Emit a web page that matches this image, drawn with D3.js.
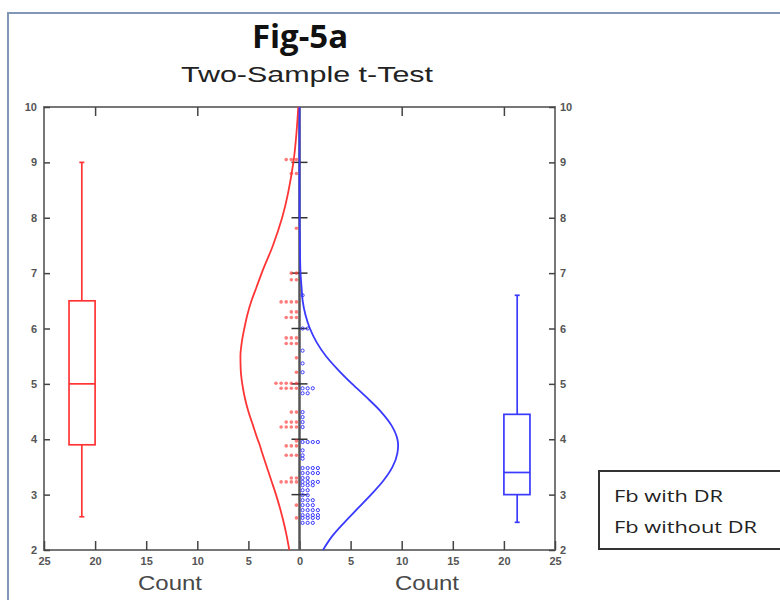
<!DOCTYPE html>
<html>
<head>
<meta charset="utf-8">
<script src="https://cdn.jsdelivr.net/npm/d3@7/dist/d3.min.js"></script>
<style>
  body { margin: 0; background: #fff; }
  svg text { font-family: "Liberation Sans", Arial, sans-serif; }
</style>
</head>
<body>
<div id="canvas"></div>
<script>
// fitted curves (value on y, count on x)
var curveVals = [2, 2.25, 2.5, 2.75, 3, 3.25, 3.5, 3.75, 3.9, 4, 4.25, 4.5, 4.75, 5, 5.25, 5.5, 5.75, 6, 6.25, 6.5, 6.75, 7, 7.5, 8, 9, 10];
var redCurve = [1.0, 1.25, 1.55, 1.9, 2.3, 2.75, 3.2, 3.65, 3.9, 4.1, 4.55, 5.0, 5.35, 5.6, 5.75, 5.78, 5.65, 5.4, 5.1, 4.7, 4.2, 3.7, 2.6, 1.7, 0.6, 0.12];
var blueCurve = [2.3, 3.2, 4.4, 5.7, 7.0, 8.2, 9.1, 9.58, 9.65, 9.58, 9.0, 7.96, 6.6, 5.15, 3.8, 2.6, 1.68, 1.02, 0.58, 0.31, 0.2, 0.1, 0.04, 0.01, 0, 0];

// box plots: [whisker low, q1, median, q3, whisker high]
var redBox = [2.6, 3.9, 5.0, 6.5, 9.0];
var blueBox = [2.5, 3.0, 3.4, 4.45, 6.6];

// dot rows (value, number of dots)
var redRowVals = [9.05, 8.8, 7.81, 7.0, 6.88, 6.48, 6.3, 6.2, 5.83, 5.73, 5.47, 5.21, 5.01, 4.92, 4.49, 4.31, 4.22, 3.97, 3.88, 3.71, 3.3, 3.23, 2.81, 2.58];
var redRowN = [3, 2, 1, 2, 2, 4, 2, 3, 3, 3, 1, 1, 5, 4, 2, 3, 4, 1, 3, 3, 2, 4, 1, 1];
var blueRowVals = [6.6, 6.0, 5.6, 5.37, 5.21, 4.92, 4.83, 4.49, 4.4, 4.31, 4.22, 3.95, 3.8, 3.71, 3.65, 3.48, 3.39, 3.3, 3.23, 3.17, 3.08, 2.99, 2.9, 2.81, 2.72, 2.63, 2.58, 2.49];
var blueRowN = [1, 2, 1, 1, 1, 3, 2, 1, 1, 1, 1, 4, 1, 1, 1, 4, 4, 2, 4, 3, 2, 2, 3, 3, 4, 4, 4, 3];

var xTicks = [-25, -20, -15, -10, -5, 0, 5, 10, 15, 20, 25];
var topTicks = [-20, -10, 10, 20];
var yTicks = [2, 3, 4, 5, 6, 7, 8, 9, 10];
var legendLabels = ["Fb with DR", "Fb without  DR"];

var RED = "#ff3535", BLUE = "#3a3aff";

var svg = d3.select("#canvas").append("svg")
  .attr("width", 780)
  .attr("height", 600);

// outer frame
svg.append("rect")
  .attr("x", 8).attr("y", 13).attr("width", 800).attr("height", 620)
  .attr("fill", "none").attr("stroke", "#8296b6").attr("stroke-width", 2);

var pLeft = 44, pRight = 555, pTop = 107, pBottom = 550;

var x = d3.scaleLinear().domain([-25, 25]).range([pLeft, pRight]);
var y = d3.scaleLinear().domain([2, 10]).range([pBottom, pTop]);

// titles
svg.append("text")
  .attr("x", 300).attr("y", 48)
  .attr("text-anchor", "middle")
  .style("font-family", "'Open Sans', sans-serif")
  .style("font-weight", "bold").style("font-size", "33px")
  .attr("fill", "#111")
  .text("Fig-5a");

svg.append("text")
  .attr("x", 181).attr("y", 82)
  .attr("textLength", 252).attr("lengthAdjust", "spacingAndGlyphs")
  .style("font-size", "22px").attr("fill", "#222")
  .text("Two-Sample t-Test");

// plot frame
svg.append("rect")
  .attr("x", pLeft).attr("y", pTop)
  .attr("width", pRight - pLeft).attr("height", pBottom - pTop)
  .attr("fill", "none").attr("stroke", "#777").attr("stroke-width", 2);

// axes
var gx = svg.append("g")
  .attr("transform", "translate(0," + pBottom + ")")
  .call(d3.axisBottom(x).tickValues(xTicks).tickSize(-9).tickSizeOuter(0).tickPadding(7)
    .tickFormat(function(d) { return Math.abs(d); }));

var gTop = svg.append("g")
  .attr("transform", "translate(0," + pTop + ")")
  .call(d3.axisTop(x).tickValues(topTicks).tickSize(-9).tickSizeOuter(0).tickFormat(""));

var gl = svg.append("g")
  .attr("transform", "translate(" + pLeft + ",0)")
  .call(d3.axisLeft(y).tickValues(yTicks).tickSize(-6).tickSizeOuter(0).tickPadding(7));

var gr = svg.append("g")
  .attr("transform", "translate(" + pRight + ",0)")
  .call(d3.axisRight(y).tickValues(yTicks).tickSize(-6).tickSizeOuter(0).tickPadding(5));

[gx, gTop, gl, gr].forEach(function(g) {
  g.select(".domain").remove();
  g.selectAll(".tick line").attr("stroke", "#444").attr("stroke-width", 1.5);
  g.selectAll(".tick text")
    .attr("fill", "#555")
    .style("font-size", "11px").style("font-weight", "bold")
    .style("font-family", "'Liberation Sans', Arial, sans-serif");
});

// center axis
svg.append("line")
  .attr("x1", x(0)).attr("x2", x(0))
  .attr("y1", y(2)).attr("y2", y(10))
  .attr("stroke", "#555").attr("stroke-width", 2.5);

svg.selectAll(".ctick")
  .data(yTicks.slice(1, -1))
  .enter().append("line")
  .attr("class", "ctick")
  .attr("x1", x(0) - 8).attr("x2", x(0) + 8)
  .attr("y1", function(d) { return y(d); })
  .attr("y2", function(d) { return y(d); })
  .attr("stroke", "#333").attr("stroke-width", 1.5);

// dots
function dotRows(vals, ns, side) {
  var out = [];
  vals.forEach(function(v, i) {
    for (var k = 0; k < ns[i]; k++) out.push({ v: v, c: side * (0.3 + 0.5 * k) });
  });
  return out;
}

svg.selectAll(".rdot")
  .data(dotRows(redRowVals, redRowN, -1))
  .enter().append("circle")
  .attr("class", "rdot")
  .attr("cx", function(d) { return x(d.c); })
  .attr("cy", function(d) { return y(d.v); })
  .attr("r", 1.8)
  .attr("fill", RED).attr("fill-opacity", 0.65);

svg.selectAll(".bdot")
  .data(dotRows(blueRowVals, blueRowN, 1))
  .enter().append("circle")
  .attr("class", "bdot")
  .attr("cx", function(d) { return x(d.c); })
  .attr("cy", function(d) { return y(d.v); })
  .attr("r", 1.6)
  .attr("fill", "none").attr("stroke", BLUE).attr("stroke-width", 1);

// fitted curves
var redLine = d3.line()
  .x(function(d, i) { return x(-redCurve[i]); })
  .y(function(d) { return y(d); })
  .curve(d3.curveMonotoneY);

var blueLine = d3.line()
  .x(function(d, i) { return x(blueCurve[i]); })
  .y(function(d) { return y(d); })
  .curve(d3.curveMonotoneY);

svg.append("path")
  .attr("d", redLine(curveVals))
  .attr("fill", "none").attr("stroke", RED).attr("stroke-width", 1.8);

svg.append("path")
  .attr("d", blueLine(curveVals))
  .attr("fill", "none").attr("stroke", BLUE).attr("stroke-width", 1.8);

// box plots (box spans counts 20 - 22.55, whisker at 21.3)
function drawBox(b, side, color) {
  var g = svg.append("g").attr("stroke", color).attr("fill", "none").attr("stroke-width", 1.7);
  var x0 = x(side * 20), x1 = x(side * 22.55), xm = x(side * 21.3);
  var bl = Math.min(x0, x1);
  g.append("rect")
    .attr("x", bl).attr("y", y(b[3]))
    .attr("width", Math.abs(x1 - x0)).attr("height", y(b[1]) - y(b[3]));
  g.append("line").attr("x1", bl).attr("x2", bl + Math.abs(x1 - x0))
    .attr("y1", y(b[2])).attr("y2", y(b[2]));
  g.append("line").attr("x1", xm).attr("x2", xm).attr("y1", y(b[0])).attr("y2", y(b[1]));
  g.append("line").attr("x1", xm).attr("x2", xm).attr("y1", y(b[3])).attr("y2", y(b[4]));
  [b[0], b[4]].forEach(function(v) {
    g.append("line").attr("x1", xm - 2.5).attr("x2", xm + 2.5).attr("y1", y(v)).attr("y2", y(v));
  });
}
drawBox(redBox, -1, RED);
drawBox(blueBox, 1, BLUE);

// x labels
[170, 427].forEach(function(cx) {
  svg.append("text")
    .attr("x", cx - 32).attr("y", 590)
    .attr("textLength", 64).attr("lengthAdjust", "spacingAndGlyphs")
    .style("font-size", "21px").attr("fill", "#484848")
    .text("Count");
});

// legend
svg.append("rect")
  .attr("x", 599).attr("y", 471).attr("width", 220).attr("height", 78)
  .attr("fill", "#fff").attr("stroke", "#333").attr("stroke-width", 2);

svg.selectAll(".leg")
  .data(legendLabels)
  .enter().append("text")
  .attr("class", "leg")
  .attr("x", 614)
  .attr("y", function(d, i) { return 502 + i * 31; })
  .attr("textLength", function(d, i) { return i ? 143 : 109; })
  .attr("lengthAdjust", "spacingAndGlyphs")
  .style("font-family", "'Open Sans', sans-serif")
  .style("font-size", "17px").attr("fill", "#222")
  .text(function(d) { return d; });
</script>
</body>
</html>
